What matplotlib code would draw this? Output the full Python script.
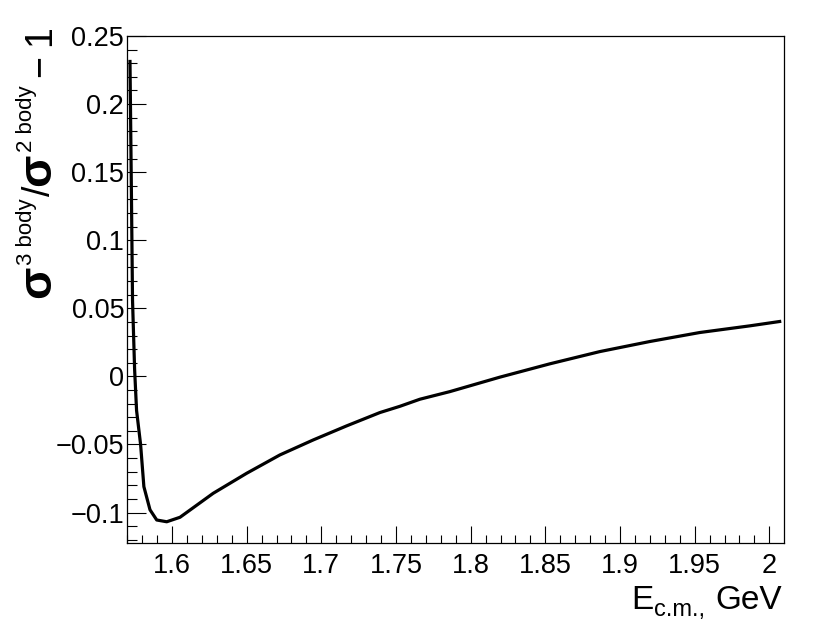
import matplotlib.pyplot as plt
from matplotlib.ticker import MultipleLocator, FuncFormatter

plt.rcParams['font.family'] = ['Liberation Sans', 'DejaVu Sans']

# E_cm (GeV) and sigma(3body)/sigma(2body) - 1
energy = [1.5719, 1.5729, 1.5736, 1.5750, 1.5763, 1.5790, 1.5812, 1.5853,
          1.5898, 1.5965, 1.6054, 1.6276, 1.65, 1.6723, 1.6946, 1.7169,
          1.7392, 1.7526, 1.766, 1.7861, 1.8195, 1.853, 1.8865, 1.92,
          1.9534, 1.9869, 2.0069]
ratio = [0.2313, 0.130, 0.056, 0.005, -0.025, -0.050, -0.081, -0.098,
         -0.1055, -0.1068, -0.1035, -0.0859, -0.0712, -0.0577, -0.0467, -0.0364,
         -0.0266, -0.0220, -0.0168, -0.0112, -0.0006, 0.0092, 0.0182, 0.0256,
         0.0322, 0.0371, 0.0403]

W, H = 814, 629
fig = plt.figure(figsize=(W / 100, H / 100), dpi=100)
ax = fig.add_axes([127 / W, 1 - 543 / H, 657 / W, 507 / H])

ax.plot(energy, ratio, color='black', lw=2.3)

ax.set_xlim(1.5699, 2.0098)
ax.set_ylim(-0.1224, 0.25)

ax.xaxis.set_major_locator(MultipleLocator(0.05))
ax.xaxis.set_minor_locator(MultipleLocator(0.01))
ax.yaxis.set_major_locator(MultipleLocator(0.05))
ax.yaxis.set_minor_locator(MultipleLocator(0.01))

fmt = FuncFormatter(lambda v, p: ('%g' % round(v, 4)).replace('-', '\u2212') if abs(v) > 1e-9 else '0')
ax.xaxis.set_major_formatter(fmt)
ax.yaxis.set_major_formatter(fmt)

ax.tick_params(which='both', direction='in', top=False, right=False, labelsize=19.5, width=0.8)
ax.tick_params(axis='y', which='major', length=14, pad=2)
ax.tick_params(axis='y', which='minor', length=7)
ax.tick_params(axis='x', which='major', length=12, pad=7)
ax.tick_params(axis='x', which='minor', length=6)
for s in ax.spines.values():
    s.set_linewidth(0.9)

fig.canvas.draw()
r = fig.canvas.get_renderer()

# x title, ROOT style at the right end, laid out right to left
xparts = [('GeV', 24, 0, 10), ('c.m.,', 17, -7, 1), ('E', 24, 0, 0)]
x = 782
for txt, size, dy, gap in xparts:
    t = fig.text(x / W, (H - 609 + dy) / H, txt, fontsize=size, ha='right', va='baseline')
    x -= t.get_window_extent(r).width + gap

# y title built piece by piece (big sigma, small superscripts)
parts = [('\u03c3', 34, 50, 'bold', 1),
         ('3 body', 16, 32, 'normal', 2),
         ('/', 27, 50, 'normal', 0),
         ('\u03c3', 34, 50, 'bold', 1),
         ('2 body', 16, 32, 'normal', 9),
         ('\u2212', 27, 50, 'normal', 9),
         ('1', 27, 50, 'normal', 0)]
y = H - 298
for txt, size, bx, weight, gap in parts:
    t = fig.text(bx / W, y / H, txt, fontsize=size, fontweight=weight, rotation=90,
                 rotation_mode='anchor', ha='left', va='baseline')
    y += t.get_window_extent(r).height + gap

fig.savefig('out.png', dpi=100)
